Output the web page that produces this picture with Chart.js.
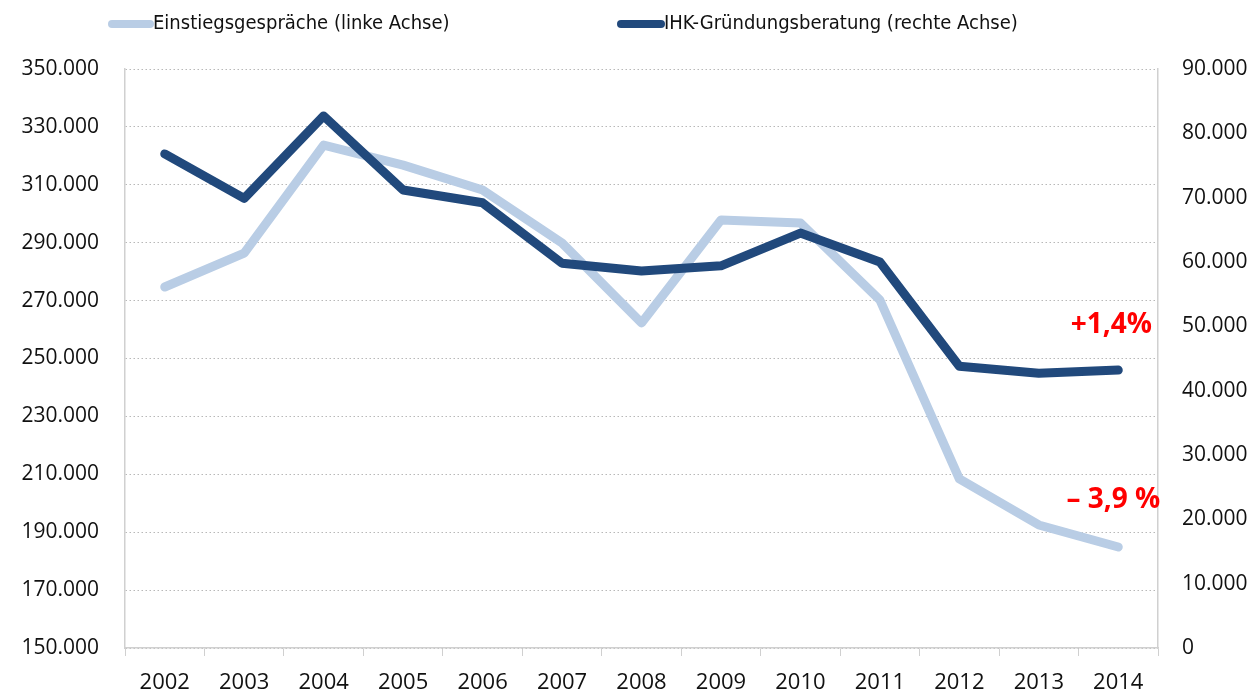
<!DOCTYPE html>
<html>
<head>
<meta charset="utf-8">
<script src="https://cdn.jsdelivr.net/npm/chart.js@4/dist/chart.umd.min.js"></script>
<style>
    html, body { margin: 0; padding: 0; background: #fff; }
    #wrap { position: relative; width: 1258px; height: 693px; }
</style>
</head>
<body>
<div id="wrap"><canvas id="chart" width="1258" height="693"></canvas></div>
<script>
// Daten
const jahre = ['2002', '2003', '2004', '2005', '2006', '2007', '2008', '2009', '2010', '2011', '2012', '2013', '2014'];
const einstiegsgespraeche = [274700, 286400, 323700, 316800, 308200, 289900, 262300, 297800, 296800, 270200, 208400, 192500, 184900];
const gruendungsberatung = [76800, 69900, 82700, 71200, 69200, 59800, 58600, 59400, 64500, 60000, 43800, 42700, 43200];
const legendeLabels = ['Einstiegsgespräche (linke Achse)', 'IHK-Gründungsberatung (rechte Achse)'];
const veraenderung = ['+1,4%', '– 3,9 %'];

const hell = '#B9CDE5';
const dunkel = '#21497C';
const tickFont = { family: 'Open Sans', size: 21 };

const fmt = v => v.toLocaleString('de-DE');

// Legende oben + Prozent-Angaben
const extras = {
    id: 'extras',
    afterDraw(chart) {
        const ctx = chart.ctx;
        ctx.save();
        ctx.lineCap = 'round';
        ctx.lineWidth = 8;
        const items = [[hell, 112, 150, legendeLabels[0]], [dunkel, 621, 661, legendeLabels[1]]];
        ctx.font = '20px "DejaVu Sans Condensed", "Liberation Sans Narrow", sans-serif';
        ctx.textBaseline = 'middle';
        ctx.textAlign = 'left';
        items.forEach(([c, x1, x2, t]) => {
            ctx.strokeStyle = c;
            ctx.beginPath();
            ctx.moveTo(x1, 24);
            ctx.lineTo(x2, 24);
            ctx.stroke();
            ctx.fillStyle = '#111';
            ctx.fillText(t, x2 + 3, 24);
        });

        const xs = chart.scales.x;
        const xl = xs.getPixelForValue(jahre.length - 1);
        ctx.fillStyle = '#FF0000';
        ctx.font = 'bold 28px "Open Sans", sans-serif';
        ctx.textAlign = 'center';
        ctx.fillText(veraenderung[0], xl - 7, 325);
        ctx.fillText(veraenderung[1], xl - 5, 500);
        ctx.restore();
    }
};

new Chart(document.getElementById('chart'), {
    type: 'line',
    data: {
        labels: jahre,
        datasets: [
            {
                label: legendeLabels[1],
                data: gruendungsberatung,
                yAxisID: 'y2',
                borderColor: dunkel,
                borderWidth: 9,
                borderCapStyle: 'round',
                borderJoinStyle: 'round',
                pointRadius: 0,
                tension: 0
            },
            {
                label: legendeLabels[0],
                data: einstiegsgespraeche,
                yAxisID: 'y',
                borderColor: hell,
                borderWidth: 9,
                borderCapStyle: 'round',
                borderJoinStyle: 'round',
                pointRadius: 0,
                tension: 0
            }
        ]
    },
    options: {
        responsive: false,
        animation: false,
        layout: { padding: { top: 69, left: 0, right: 0, bottom: 0 } },
        plugins: {
            legend: { display: false },
            tooltip: { enabled: false }
        },
        scales: {
            x: {
                offset: true,
                afterFit: s => { s.height = 45; },
                grid: { offset: true, drawOnChartArea: false, drawTicks: true, tickLength: 8, color: '#D0D0D0' },
                border: { color: '#D0D0D0', width: 1.5 },
                ticks: { color: '#111', font: { family: 'Open Sans', size: 22 }, padding: 14, maxRotation: 0 }
            },
            y: {
                position: 'left',
                min: 150000,
                max: 350000,
                afterFit: s => { s.width = 125; },
                ticks: { stepSize: 20000, color: '#111', font: tickFont, padding: 26, callback: v => fmt(v) },
                grid: { color: '#B8B8B8', lineWidth: 1, drawTicks: false },
                border: { color: '#D0D0D0', width: 1.5, dash: [1.5, 2.5] }
            },
            y2: {
                position: 'right',
                min: 0,
                max: 90000,
                afterFit: s => { s.width = 100; },
                ticks: { stepSize: 10000, color: '#111', font: tickFont, padding: 24, callback: v => fmt(v) },
                grid: { drawOnChartArea: false, drawTicks: false },
                border: { color: '#D0D0D0', width: 1.5 }
            }
        }
    },
    plugins: [extras]
});
</script>
</body>
</html>
